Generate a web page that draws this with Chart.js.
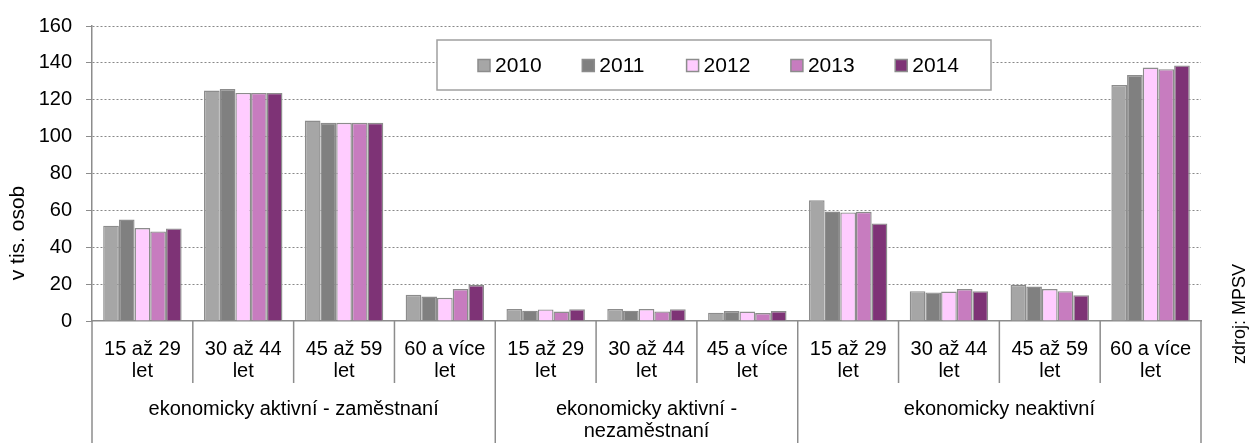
<!DOCTYPE html>
<html>
<head>
<meta charset="utf-8">
<script src="https://cdn.jsdelivr.net/npm/chart.js@4/dist/chart.umd.min.js"></script>
<style>
  html, body { margin: 0; padding: 0; background: #fff; }
  #wrap { width: 1249px; height: 443px; position: relative; }
</style>
</head>
<body>
<div id="wrap"><canvas id="chart"></canvas></div>
<script>
const categories = [
    ["15 až 29", "let"], ["30 až 44", "let"], ["45 až 59", "let"], ["60 a více", "let"],
    ["15 až 29", "let"], ["30 až 44", "let"], ["45 a více", "let"],
    ["15 až 29", "let"], ["30 až 44", "let"], ["45 až 59", "let"], ["60 a více", "let"]
];
const groupLabels = [
    ["ekonomicky aktivní - zaměstnaní"],
    ["ekonomicky aktivní -", "nezaměstnaní"],
    ["ekonomicky neaktivní"]
];
const groupSizes = [4, 3, 4];

const years = ["2010", "2011", "2012", "2013", "2014"];
const values2010 = [51.7, 125.0, 108.7, 14.2, 6.5, 6.5, 4.5, 65.5, 16.2, 19.6, 128.0];
const values2011 = [55.0, 125.8, 107.5, 13.3, 5.6, 5.6, 5.4, 59.4, 15.5, 18.7, 133.4];
const values2012 = [50.4, 123.7, 107.5, 12.6, 6.3, 6.5, 5.1, 58.9, 16.0, 17.3, 137.5];
const values2013 = [48.6, 123.7, 107.5, 17.3, 5.1, 5.2, 4.3, 59.2, 17.3, 16.2, 136.6];
const values2014 = [50.2, 123.7, 107.5, 19.5, 6.4, 6.4, 5.4, 52.9, 16.2, 14.0, 138.6];
const seriesValues = [values2010, values2011, values2012, values2013, values2014];
const colors = ["#a6a6a6", "#808080", "#ffccff", "#c77cbf", "#7e3376"];

const FONT = "Liberation Sans, Arial, sans-serif";
const lineGray = "#8c8c8c";

// separators, group labels, legend box, side titles
const extrasPlugin = {
    id: "extras",
    afterDraw(chart) {
        const ctx = chart.ctx;
        const x = chart.scales.x;
        const area = chart.chartArea;
        const n = categories.length;
        const bounds = [];
        for (let i = 0; i <= n; i++) {
            if (i === 0) bounds.push(area.left);
            else if (i === n) bounds.push(area.right);
            else bounds.push((x.getPixelForValue(i - 1) + x.getPixelForValue(i)) / 2);
        }
        const groupEdges = [0];
        groupSizes.forEach(s => groupEdges.push(groupEdges[groupEdges.length - 1] + s));

        ctx.save();
        ctx.strokeStyle = lineGray;
        ctx.lineWidth = 1.5;
        bounds.forEach((bx, i) => {
            const isGroup = groupEdges.includes(i);
            ctx.beginPath();
            ctx.moveTo(bx, area.bottom);
            ctx.lineTo(bx, isGroup ? chart.height : 383);
            ctx.stroke();
        });

        ctx.fillStyle = "#000";
        ctx.font = "20px " + FONT;
        ctx.textAlign = "center";
        ctx.textBaseline = "middle";
        groupLabels.forEach((lines, g) => {
            const cx = (bounds[groupEdges[g]] + bounds[groupEdges[g + 1]]) / 2;
            lines.forEach((t, k) => ctx.fillText(t, cx, 409 + k * 22));
        });

        // legend
        const lx = 437, ly = 40, lw = 554, lh = 50;
        ctx.fillStyle = "#fff";
        ctx.fillRect(lx, ly, lw, lh);
        ctx.strokeStyle = "#a0a0a0";
        ctx.lineWidth = 1.5;
        ctx.strokeRect(lx, ly, lw, lh);
        ctx.textAlign = "left";
        ctx.font = "21px " + FONT;
        chart.data.datasets.forEach((ds, i) => {
            const mx = 478 + i * 104.3;
            ctx.fillStyle = ds.backgroundColor;
            ctx.fillRect(mx, 59.5, 12, 12);
            ctx.strokeStyle = lineGray;
            ctx.strokeRect(mx, 59.5, 12, 12);
            ctx.fillStyle = "#000";
            ctx.fillText(ds.label, mx + 17, 66);
        });

        // axis title and source
        ctx.textAlign = "center";
        ctx.font = "21px " + FONT;
        ctx.save();
        ctx.translate(18, 233);
        ctx.rotate(-Math.PI / 2);
        ctx.fillText("v tis. osob", 0, 0);
        ctx.restore();
        ctx.font = "18px " + FONT;
        ctx.save();
        ctx.translate(1240, 314);
        ctx.rotate(-Math.PI / 2);
        ctx.fillText("zdroj: MPSV", 0, 0);
        ctx.restore();
        ctx.restore();
    }
};

new Chart(document.getElementById("chart"), {
    type: "bar",
    data: {
        labels: categories,
        datasets: years.map((y, i) => ({
            label: y,
            data: seriesValues[i],
            backgroundColor: colors[i],
            borderColor: lineGray,
            borderWidth: 1.4,
            borderSkipped: "bottom",
            categoryPercentage: 0.778,
            barPercentage: 1.0
        }))
    },
    options: {
        responsive: true,
        maintainAspectRatio: false,
        animation: false,
        layout: { padding: { top: 24, right: 48, left: 0, bottom: 0 } },
        plugins: { legend: { display: false }, tooltip: { enabled: false } },
        scales: {
            x: {
                grid: { display: false },
                border: { display: true, color: lineGray, width: 1.5 },
                ticks: {
                    color: "#000",
                    font: { family: FONT, size: 20, lineHeight: 1.1 },
                    padding: 9,
                    maxRotation: 0,
                    autoSkip: false
                },
                afterFit(scale) { scale.height = 122; }
            },
            y: {
                min: 0,
                max: 160,
                ticks: {
                    stepSize: 20,
                    color: "#000",
                    font: { family: FONT, size: 20 },
                    padding: 14
                },
                grid: {
                    color: ctx => ctx.tick && ctx.tick.value === 0 ? "rgba(0,0,0,0)" : "#888888",
                    tickColor: lineGray,
                    tickLength: 6,
                    tickBorderDash: []
                },
                border: { display: true, color: lineGray, width: 1.5, dash: [2, 2] },
                afterFit(scale) { scale.width = 92; }
            }
        }
    },
    plugins: [extrasPlugin]
});
</script>
</body>
</html>
